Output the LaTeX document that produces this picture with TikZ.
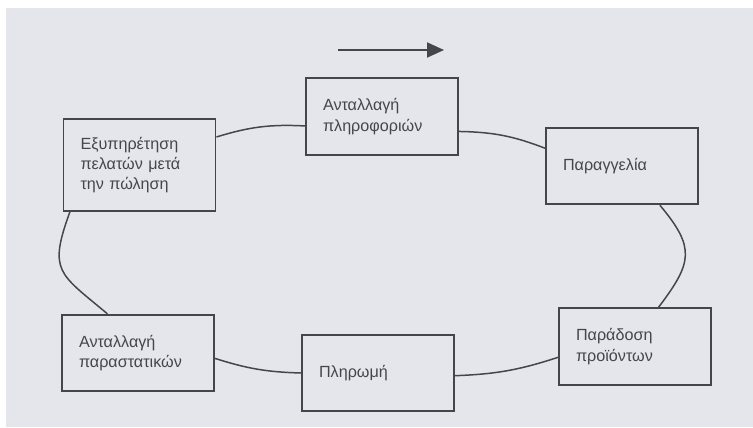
\documentclass[tikz,border=0pt]{standalone}
\usepackage{fontspec}
\setmainfont{Liberation Sans}
\usetikzlibrary{arrows.meta}
\definecolor{paper}{RGB}{228,230,236}
\definecolor{ink}{RGB}{70,70,74}

\begin{document}
\begin{tikzpicture}[x=0.02cm, y=0.02cm,
    stage/.style={draw=ink, line width=1.1pt, rectangle, align=left, text=ink,
      inner xsep=0.34cm, text width=2.36cm, minimum height=1.53cm,
      font=\fontsize{9.2}{11.6}\selectfont},
    link/.style={draw=ink, line width=0.85pt}]
    \useasboundingbox (0,0) rectangle (753,427);
    \fill[white] (0,0) rectangle (753,427);
    \fill[paper] (6,0) rectangle (753,419);
    \coordinate (flowstart) at (338,377);
    \coordinate (flowend) at (444,377);
    \draw[ink, line width=1.1pt, -{Triangle[length=0.34cm,width=0.3cm]}] (flowstart) -- (flowend);
    \node[stage] (info) at (382,310.5) {Ανταλλαγή\\πληροφοριών};
    \node[stage] (order) at (622,261) {Παραγγελία};
    \node[stage] (deliv) at (635,80.5) {Παράδοση\\προϊόντων};
    \node[stage] (pay) at (378,54) {Πληρωμή};
    \node[stage] (docs) at (138,74) {Ανταλλαγή\\παραστατικών};
    \node[stage, minimum height=1.84cm] (service) at (139.5,262) {Εξυπηρέτηση\\πελατών μετά\\την πώληση};
    \draw[link] (service.20) to[bend left=10] (info.187);
    \draw[link] (info.349) to[bend left=10] (order.167);
    \draw[link] (order.-46) to[out=-50, in=53, looseness=1.4] (deliv.59);
    \draw[link] (deliv.188) to[bend left=8] (pay.358);
    \draw[link] (pay.180) to[bend left=8] (docs.356);
    \draw[link] (docs.128) to[out=140, in=250, looseness=1.5] (service.214);
\end{tikzpicture}
\end{document}
